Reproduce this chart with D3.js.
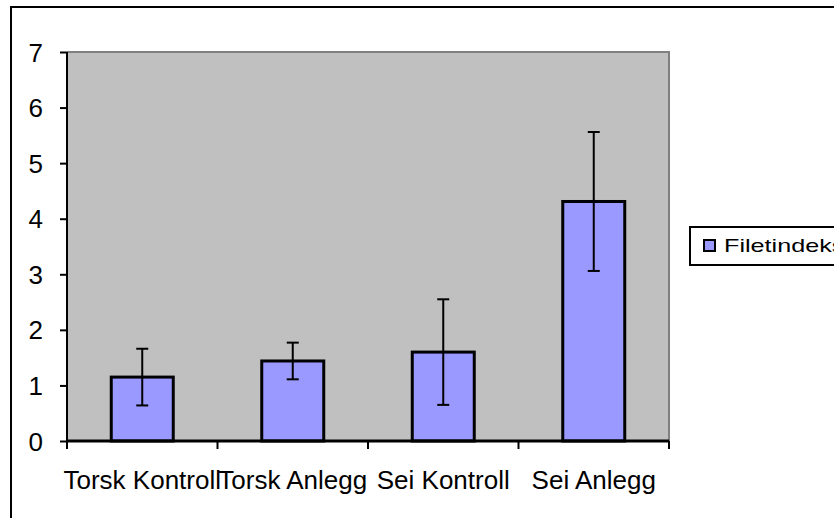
<!DOCTYPE html>
<html>
<head>
<meta charset="utf-8">
<script src="https://cdn.jsdelivr.net/npm/d3@7"></script>
<style>
  body { margin: 0; background: #fff; }
  text { font-family: "Liberation Sans", Arial, sans-serif; fill: #000; }
</style>
</head>
<body>
<script>
'use strict';

const categories = ["Torsk Kontroll", "Torsk Anlegg", "Sei Kontroll", "Sei Anlegg"];
const means = [1.15, 1.44, 1.60, 4.31];
const errors = [0.51, 0.33, 0.95, 1.25];
const yTicks = [0, 1, 2, 3, 4, 5, 6, 7];
const seriesName = "Filetindeks";

function createBarChart(width, height) {
    let svg = d3.create("svg")
        .attr("width", width)
        .attr("height", height);

    // outer chart frame (cut off at right/bottom)
    svg.append("rect")
        .attr("x", 11).attr("y", 7)
        .attr("width", width + 20).attr("height", height + 20)
        .attr("fill", "#fff")
        .attr("stroke", "#000")
        .attr("stroke-width", 2);

    let plot = {left: 67, top: 52, right: 669, bottom: 441};

    let x = d3.scaleBand()
        .domain(categories)
        .range([plot.left, plot.right]);

    let y = d3.scaleLinear()
        .domain([0, 7])
        .range([plot.bottom, plot.top]);

    let g = svg.append("g");

    // plot background
    g.append("rect")
        .attr("x", plot.left).attr("y", plot.top)
        .attr("width", plot.right - plot.left)
        .attr("height", plot.bottom - plot.top)
        .attr("fill", "#c0c0c0");

    // gray top + right border
    g.append("path")
        .attr("d", `M${plot.left},${plot.top}H${plot.right}V${plot.bottom}`)
        .attr("fill", "none")
        .attr("stroke", "#808080")
        .attr("stroke-width", 2);

    // bars
    let barW = 62;
    g.selectAll("rect.bar")
        .data(means)
        .enter().append("rect")
        .attr("class", "bar")
        .attr("x", (d, i) => x(categories[i]) + x.bandwidth() / 2 - barW / 2)
        .attr("y", d => y(d))
        .attr("width", barW)
        .attr("height", d => y(0) - y(d))
        .attr("fill", "#9999ff")
        .attr("stroke", "#000")
        .attr("stroke-width", 3);

    // error bars
    let eb = g.append("g")
        .attr("stroke", "#000")
        .attr("stroke-width", 2);
    means.forEach((m, i) => {
        let cx = x(categories[i]) + x.bandwidth() / 2;
        eb.append("line")
            .attr("x1", cx).attr("x2", cx)
            .attr("y1", y(m + errors[i])).attr("y2", y(m - errors[i]));
        [m + errors[i], m - errors[i]].forEach(v => {
            eb.append("line")
                .attr("x1", cx - 6).attr("x2", cx + 6)
                .attr("y1", y(v)).attr("y2", y(v));
        });
    });

    // y axis
    let yAxis = g.append("g")
        .attr("transform", `translate(${plot.left},0)`)
        .call(d3.axisLeft(y).tickValues(yTicks).tickSize(7).tickPadding(17).tickFormat(d3.format("d")));
    yAxis.selectAll("path, line").attr("stroke", "#000").attr("stroke-width", 2);
    yAxis.select("path").attr("d", `M0,${plot.top}V${plot.bottom}`);
    yAxis.selectAll("text")
        .style("font-size", "26px")
        .attr("dy", "0.35em");

    // x axis
    let xAxis = g.append("g")
        .attr("transform", `translate(0,${plot.bottom})`)
        .call(d3.axisBottom(x).tickSize(0).tickPadding(30));
    xAxis.select("path").attr("d", `M${plot.left},0H${plot.right}`)
        .attr("stroke", "#000").attr("stroke-width", 3);
    xAxis.selectAll("text").style("font-size", "26px");
    // category boundary ticks
    let bounds = categories.map(c => x(c)).concat([plot.right]);
    xAxis.selectAll("line.bnd")
        .data(bounds)
        .enter().append("line")
        .attr("class", "bnd")
        .attr("x1", d => d).attr("x2", d => d)
        .attr("y1", 0).attr("y2", 8)
        .attr("stroke", "#000").attr("stroke-width", 2);

    // legend
    let lg = svg.append("g");
    lg.append("rect")
        .attr("x", 690).attr("y", 227)
        .attr("width", 160).attr("height", 38)
        .attr("fill", "#fff")
        .attr("stroke", "#000")
        .attr("stroke-width", 2);
    lg.append("rect")
        .attr("x", 704).attr("y", 240)
        .attr("width", 11).attr("height", 11)
        .attr("fill", "#9999ff")
        .attr("stroke", "#000")
        .attr("stroke-width", 2);
    lg.append("text")
        .attr("transform", "translate(724,252) scale(1.4,1)")
        .style("font-size", "18px")
        .text(seriesName);

    d3.select("body").append(() => svg.node());
    return svg.node();
}

createBarChart(834, 518);
</script>
</body>
</html>
